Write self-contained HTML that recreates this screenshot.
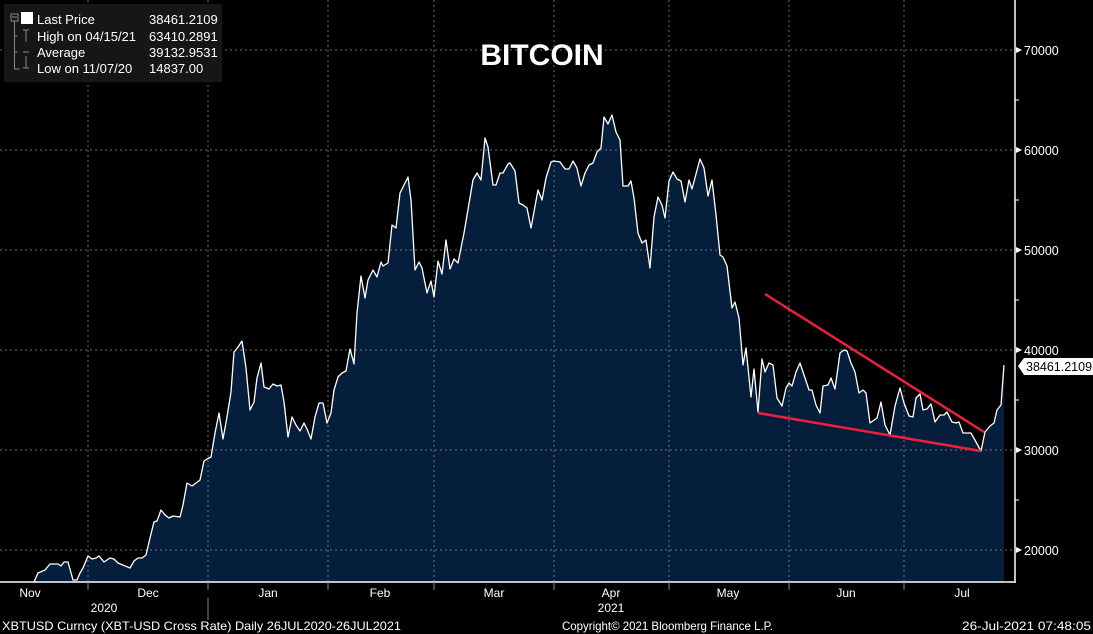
<!DOCTYPE html>
<html><head><meta charset="utf-8"><style>
body{margin:0;background:#000;}
svg{display:block;font-family:"Liberation Sans",sans-serif;}
</style></head><body>
<svg width="1093" height="634" viewBox="0 0 1093 634" xmlns="http://www.w3.org/2000/svg">
<rect width="1093" height="634" fill="#000"/>
<defs><clipPath id="c"><rect x="0" y="0" width="1015" height="582"/></clipPath></defs>
<g clip-path="url(#c)">
<polygon fill="#041e3b" points="34,582 38,573 45,570 50,564 58,564 61,566 64,562 68,562 73,580 77,580 80,573 83,568 88,556 92,559 96,558 99,556 104,562 110,558 114,559 118,563 130,568 134,561 138,558 142,558 146,555 150,538 154,522 157,521 161,510 165,515 169,518 173,516 180,517 183,505 187,483 192,486 200,480 204,461 207,459 211,457 215,433 219,413 223,439 227,417 231,392 234,352 238,347 242,341 246,368 250,410 254,402 257,378 261,363 264,387 269,389 273,384 277,386 281,385 284,402 288,437 292,417 296,425 300,431 304,423 307,429 311,439 315,417 319,403 323,403 327,423 331,413 334,390 338,377 342,373 346,371 350,349 354,364 357,313 361,276 365,298 368,280 373,270 377,277 381,262 383,266 388,263 392,225 396,228 400,193 404,185 408,177 411,200 415,270 419,262 422,268 427,293 431,281 434,297 438,261 442,274 446,240 450,269 454,259 458,263 464,233 473,180 477,173 481,180 485,138 488,147 493,185 496,185 500,173 503,173 508,164 510,163 515,171 519,203 523,205 527,208 531,228 538,190 542,200 546,178 551,162 554,161 560,162 565,169 569,169 573,161 577,168 581,186 585,173 589,165 593,163 597,152 601,148 604,117 608,124 612,115 616,132 620,140 623,186 628,186 631,181 634,198 638,233 642,243 646,240 650,268 654,217 658,197 662,205 665,218 669,181 673,172 677,179 681,181 685,202 689,180 692,189 700,159 704,168 708,196 712,180 716,215 720,255 723,257 727,266 732,308 735,302 739,318 743,365 746,348 751,397 754,369 758,412 762,359 765,372 769,363 773,365 777,398 782,406 786,388 789,383 792,386 796,372 800,363 805,378 809,390 812,390 816,405 820,413 823,386 828,385 831,378 835,389 840,353 844,350 847,351 851,363 855,372 859,393 863,390 866,393 870,423 877,418 881,402 885,425 890,435 895,406 900,388 904,403 909,416 913,417 916,398 920,394 923,410 927,409 931,404 935,422 940,415 944,415 947,412 952,422 956,423 959,422 963,433 971,433 981,451 985,432 990,426 994,423 997,410 1001,405 1004,365 1004,582"/>
<g stroke="#8a8a8a" stroke-width="1" stroke-dasharray="2,3" fill="none" opacity="0.8">
<path d="M0 50H1015M0 150H1015M0 250H1015M0 350H1015M0 450H1015M0 550H1015"/>
<path d="M88 0V582M208 0V582M328 0V582M434 0V582M554 0V582M669 0V582M789 0V582M904 0V582"/>
</g>
<polyline fill="none" stroke="#fff" stroke-width="1.3" stroke-linejoin="round" points="34,582 38,573 45,570 50,564 58,564 61,566 64,562 68,562 73,580 77,580 80,573 83,568 88,556 92,559 96,558 99,556 104,562 110,558 114,559 118,563 130,568 134,561 138,558 142,558 146,555 150,538 154,522 157,521 161,510 165,515 169,518 173,516 180,517 183,505 187,483 192,486 200,480 204,461 207,459 211,457 215,433 219,413 223,439 227,417 231,392 234,352 238,347 242,341 246,368 250,410 254,402 257,378 261,363 264,387 269,389 273,384 277,386 281,385 284,402 288,437 292,417 296,425 300,431 304,423 307,429 311,439 315,417 319,403 323,403 327,423 331,413 334,390 338,377 342,373 346,371 350,349 354,364 357,313 361,276 365,298 368,280 373,270 377,277 381,262 383,266 388,263 392,225 396,228 400,193 404,185 408,177 411,200 415,270 419,262 422,268 427,293 431,281 434,297 438,261 442,274 446,240 450,269 454,259 458,263 464,233 473,180 477,173 481,180 485,138 488,147 493,185 496,185 500,173 503,173 508,164 510,163 515,171 519,203 523,205 527,208 531,228 538,190 542,200 546,178 551,162 554,161 560,162 565,169 569,169 573,161 577,168 581,186 585,173 589,165 593,163 597,152 601,148 604,117 608,124 612,115 616,132 620,140 623,186 628,186 631,181 634,198 638,233 642,243 646,240 650,268 654,217 658,197 662,205 665,218 669,181 673,172 677,179 681,181 685,202 689,180 692,189 700,159 704,168 708,196 712,180 716,215 720,255 723,257 727,266 732,308 735,302 739,318 743,365 746,348 751,397 754,369 758,412 762,359 765,372 769,363 773,365 777,398 782,406 786,388 789,383 792,386 796,372 800,363 805,378 809,390 812,390 816,405 820,413 823,386 828,385 831,378 835,389 840,353 844,350 847,351 851,363 855,372 859,393 863,390 866,393 870,423 877,418 881,402 885,425 890,435 895,406 900,388 904,403 909,416 913,417 916,398 920,394 923,410 927,409 931,404 935,422 940,415 944,415 947,412 952,422 956,423 959,422 963,433 971,433 981,451 985,432 990,426 994,423 997,410 1001,405 1004,365"/>
<line x1="765" y1="294" x2="984" y2="432" stroke="#ee1f3c" stroke-width="2.5"/>
<line x1="758" y1="413" x2="981" y2="451" stroke="#ee1f3c" stroke-width="2.5"/>
</g>
<line x1="1015" y1="0" x2="1015" y2="583" stroke="#fff" stroke-width="1.5"/>
<line x1="0" y1="582" x2="1015" y2="582" stroke="#fff" stroke-width="1.5"/>
<g fill="#fff">
<polygon points="1016,47 1022,50 1016,53"/><polygon points="1016,147 1022,150 1016,153"/>
<polygon points="1016,247 1022,250 1016,253"/><polygon points="1016,347 1022,350 1016,353"/>
<polygon points="1016,447 1022,450 1016,453"/><polygon points="1016,547 1022,550 1016,553"/>
</g>
<path d="M1015 100h4M1015 200h4M1015 300h4M1015 400h4M1015 500h4" stroke="#fff"/>
<g fill="#fff" font-size="12.5">
<text x="1024" y="55">70000</text><text x="1024" y="155">60000</text>
<text x="1024" y="255">50000</text><text x="1024" y="355">40000</text>
<text x="1024" y="455">30000</text><text x="1024" y="555">20000</text>
</g>
<polygon points="1018,366 1024,358 1093,358 1093,375 1024,375" fill="#fff"/>
<text x="1026" y="371" font-size="12.5" fill="#000">38461.2109</text>
<path d="M88 582v8M208 582v8M328 582v8M434 582v8M554 582v8M669 582v8M789 582v8M904 582v8M208 598v22" stroke="#888"/>
<g fill="#fff" font-size="12" text-anchor="middle">
<text x="30" y="597">Nov</text><text x="148" y="597">Dec</text><text x="268" y="597">Jan</text>
<text x="380" y="597">Feb</text><text x="494" y="597">Mar</text><text x="611" y="597">Apr</text>
<text x="728" y="597">May</text><text x="846" y="597">Jun</text><text x="962" y="597">Jul</text>
<text x="104" y="612">2020</text><text x="611" y="612">2021</text>
</g>
<g fill="#fff" font-size="12">
<text x="2" y="630" textLength="399" lengthAdjust="spacingAndGlyphs">XBTUSD Curncy (XBT-USD Cross Rate)  Daily 26JUL2020-26JUL2021</text>
<text x="562" y="630" textLength="211" lengthAdjust="spacingAndGlyphs">Copyright© 2021 Bloomberg Finance L.P.</text>
<text x="962" y="630" textLength="129" lengthAdjust="spacingAndGlyphs">26-Jul-2021 07:48:05</text>
</g>
<text x="542" y="65" font-size="30" font-weight="bold" fill="#fff" text-anchor="middle">BITCOIN</text>
<rect x="4" y="4" width="218" height="78" rx="2" fill="#161616"/>
<g stroke="#888" fill="none" stroke-width="1">
<rect x="11" y="14" width="7" height="7"/><path d="M12 17h5M14.5 21v48h5M14.5 36h3M14.5 52h3"/>
<path d="M23 30h6M26 30v12M23 52h6M23 68h6M26 56v12"/>
</g>
<rect x="21" y="12" width="12" height="12" fill="#fff"/>
<g fill="#fff" font-size="13">
<text x="37" y="24">Last Price</text><text x="149" y="24">38461.2109</text>
<text x="37" y="41">High on 04/15/21</text><text x="149" y="41">63410.2891</text>
<text x="37" y="57">Average</text><text x="149" y="57">39132.9531</text>
<text x="37" y="73">Low on 11/07/20</text><text x="149" y="73">14837.00</text>
</g>
</svg>
</body></html>
